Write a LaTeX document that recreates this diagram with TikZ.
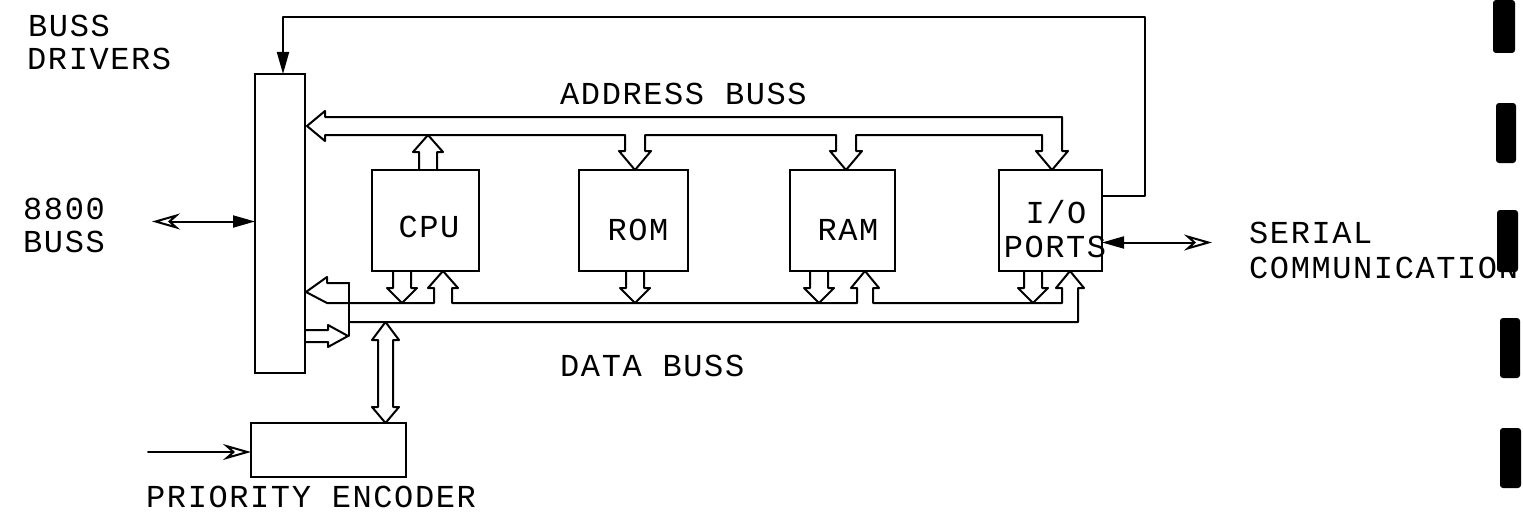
\documentclass[tikz,border=0pt]{standalone}
\usepackage{fontspec}
\newfontfamily\plotfont[LetterSpace=5]{Liberation Mono}
\usetikzlibrary{arrows.meta,calc}
\begin{document}
\begin{tikzpicture}[x=1pt,y=-1pt,
  wire/.style={line width=2pt, line join=round, line cap=round},
  box/.style={draw, line width=2pt, inner sep=0pt, outer sep=0pt, anchor=north west},
  txt/.style={font=\plotfont\fontsize{32}{32}\selectfont, inner sep=0pt, anchor=base west},
  ctxt/.style={font=\plotfont\fontsize{32}{32}\selectfont, inner sep=0pt, anchor=base},
  fhead/.tip={Triangle[length=22pt,width=12pt]},
  ohead/.tip={Stealth[open,length=28pt,width=16pt,inset=9pt]}
]
\useasboundingbox (0,0) rectangle (1523,519);

% boxes
\node[box, minimum width=50pt, minimum height=299pt] (drv) at (255,74) {};
\node[box, minimum width=107pt, minimum height=101pt] (cpu) at (372,170) {};
\node[box, minimum width=109pt, minimum height=101pt] (rom) at (579,170) {};
\node[box, minimum width=105pt, minimum height=101pt] (ram) at (790,170) {};
\node[box, minimum width=103pt, minimum height=101pt] (io) at (999,170) {};
\node[box, minimum width=155pt, minimum height=54pt] (enc) at (251,423) {};

% box labels
\node[ctxt] (cpuT) at (429,237) {CPU};
\node[ctxt] (romT) at (638,240) {ROM};
\node[ctxt] (ramT) at (848,240) {RAM};
\node[ctxt] (ioT1) at (1056,223) {I/O};
\node[ctxt] (ioT2) at (1055,257) {PORTS};

% free texts
\node[txt] (lb1) at (28,37) {BUSS};
\node[txt] (lb2) at (27,70) {DRIVERS};
\node[txt] (lb3) at (23,219) {8800};
\node[txt] (lb4) at (23,252) {BUSS};
\node[txt] (lb5) at (560,104) {ADDRESS BUSS};
\node[txt] (lb6) at (560,376) {DATA BUSS};
\node[txt] (lb7) at (146,507) {PRIORITY ENCODER};
\node[txt] (lb8) at (1249,243) {SERIAL};
\node[txt] (lb9) at (1249,278) {COMMUNICATION};

% address buss
\draw[wire] (325,117) -- (1062,117) -- (1062,151) -- (1068,151) -- (1052,170)
  -- (1036,151) -- (1042,151) -- (1042,135)
  -- (856,135) -- (856,151) -- (862,151) -- (846,170) -- (830,151) -- (836,151) -- (836,135)
  -- (645,135) -- (645,151) -- (651,151) -- (635,170) -- (619,151) -- (625,151) -- (625,135)
  -- (325,135) -- (325,141) -- (307,126) -- (325,111) -- cycle;
% cpu to address buss
\draw[wire] (419,170) -- (419,152) -- (413,152) -- (428,135) -- (443,152) -- (437,152) -- (437,170);

% data buss
\draw[wire] (349,283) -- (327,283) -- (327,277) -- (306,292) -- (327,303)
  -- (434,303) -- (434,288) -- (428,288) -- (443,271) -- (458,288) -- (452,288) -- (452,303)
  -- (857,303) -- (857,288) -- (851,288) -- (865,271) -- (879,288) -- (873,288) -- (873,303)
  -- (1062,303) -- (1062,288) -- (1056,288) -- (1070,271) -- (1084,288) -- (1078,288) -- (1078,322)
  -- (349,322);
\draw[wire] (349,283) -- (349,336);
\draw[wire] (305,330) -- (328,330) -- (328,325) -- (348,336) -- (328,347) -- (328,342) -- (305,342);
% down arrows onto data buss
\draw[wire] (393,271) -- (393,288) -- (387,288) -- (402,303) -- (417,288) -- (411,288) -- (411,271);
\draw[wire] (626,271) -- (626,288) -- (620,288) -- (635,303) -- (650,288) -- (644,288) -- (644,271);
\draw[wire] (810,271) -- (810,288) -- (804,288) -- (819,303) -- (834,288) -- (828,288) -- (828,271);
\draw[wire] (1024,271) -- (1024,288) -- (1018,288) -- (1033,303) -- (1048,288) -- (1042,288) -- (1042,271);
% priority encoder double arrow
\draw[wire] (385.5,322) -- (399,340) -- (393,340) -- (393,407) -- (399,407) -- (385.5,423)
  -- (372,407) -- (378,407) -- (378,340) -- (372,340) -- cycle;

% connectors
\draw[wire, -fhead] ($(io.north east)+(0,26)$) -- ++(43,0) |- ($(drv.north)+(3,-57)$) -- ($(drv.north)+(3,0)$);
\draw[wire, ohead-fhead] ($(drv.west)+(-103,-2)$) -- ($(drv.west)+(0,-2)$);
\draw[wire, fhead-ohead] ($(io.east)+(0,22)$) -- ++(110,0);
\draw[wire, -ohead] ($(enc.west)+(-103,2)$) -- ($(enc.west)+(0,2)$);

% margin marks
\fill[rounded corners=3pt] (1493,0) rectangle (1515,53);
\fill[rounded corners=3pt] (1496,103) rectangle (1516,163);
\fill[rounded corners=3pt] (1497,210) rectangle (1518,272);
\fill[rounded corners=3pt] (1500,318) rectangle (1520,378);
\fill[rounded corners=3pt] (1500,428) rectangle (1521,488);
\end{tikzpicture}
\end{document}
